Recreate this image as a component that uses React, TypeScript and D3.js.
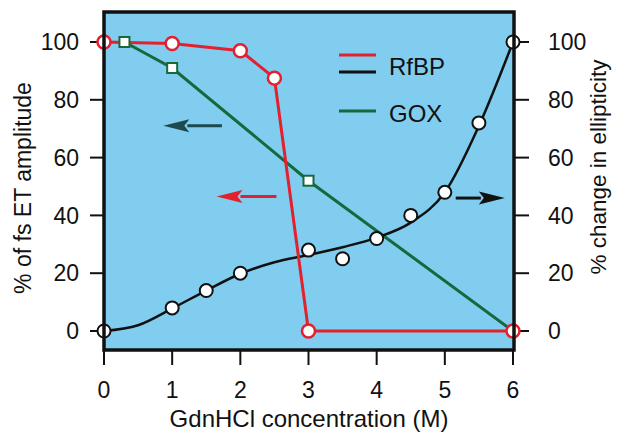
import React from "react";
import * as d3 from "d3";

const xTicks = [0, 1, 2, 3, 4, 5, 6];
const yTicks = [0, 20, 40, 60, 80, 100];

// RfBP fs ET amplitude (left axis, red)
const rfbpX = [0, 1, 2, 2.5, 3, 6];
const rfbpY = [100, 99.5, 97, 87.5, 0, 0];

// GOX fs ET amplitude (left axis, green)
const goxX = [0.3, 1, 3, 6];
const goxY = [100, 91, 52, 0];
const goxMarkerX = [0.3, 1, 3];
const goxMarkerY = [100, 91, 52];

// RfBP ellipticity change (right axis, black)
const ellX = [0, 1, 1.5, 2, 3, 3.5, 4, 4.5, 5, 5.5, 6];
const ellY = [0, 8, 14, 20, 28, 25, 32, 40, 48, 72, 100];

// fitted curve through ellipticity data
const fitX = [0, 0.5, 1, 1.5, 2, 2.5, 3, 3.5, 4, 4.5, 5, 5.5, 6];
const fitY = [0, 2, 7.8, 14, 19.8, 23.8, 26.3, 29, 32.3, 37.5, 48, 71, 100];

// arrows (x from, x to, y) in data units
const arrowGreen = [1.73, 0.87, 71];
const arrowRed = [2.53, 1.65, 46.5];
const arrowBlack = [5.16, 5.88, 46];

const W = 617;
const H = 438;
const frameL = 104;
const frameR = 514;
const frameT = 12;
const frameB = 350;

const BG = "#80cdf0";
const RED = "#e3202e";
const GREEN = "#17683c";
const DARKGREEN = "#1c4a4f";
const BLACK = "#111";
const FONT = "Liberation Sans, Arial, Helvetica, sans-serif";

export default function App() {
  const x = d3.scaleLinear().domain([0, 6]).range([104, 513]);
  const yL = d3.scaleLinear().domain([0, 100]).range([331, 42]);
  const yR = d3.scaleLinear().domain([0, 100]).range([331, 42]);

  const straight = d3
    .line<[number, number]>()
    .x((d) => x(d[0]))
    .y((d) => yL(d[1]));
  const smooth = d3
    .line<[number, number]>()
    .x((d) => x(d[0]))
    .y((d) => yR(d[1]))
    .curve(d3.curveMonotoneX);

  const rfbp = rfbpX.map((v, i) => [v, rfbpY[i]] as [number, number]);
  const gox = goxX.map((v, i) => [v, goxY[i]] as [number, number]);
  const fit = fitX.map((v, i) => [v, fitY[i]] as [number, number]);

  const arrow = (a: number[], color: string, key: string) => {
    const x1 = x(a[0]);
    const x2 = x(a[1]);
    const y = yL(a[2]);
    const dir = Math.sign(x2 - x1);
    const headLen = 26;
    const hw = 6.5;
    const base = x2 - dir * headLen;
    return (
      <g key={key}>
        <line x1={x1} x2={base + dir * 2} y1={y} y2={y} stroke={color} strokeWidth={3} />
        <path
          d={`M${x2},${y} L${base},${y - hw} L${base + dir * 5},${y} L${base},${y + hw} Z`}
          fill={color}
        />
      </g>
    );
  };

  return (
    <svg
      width={W}
      height={H}
      style={{ position: "absolute", left: 0, top: 0, background: "#fff" }}
      fontFamily={FONT}
    >
      <rect x={frameL} y={frameT} width={frameR - frameL} height={frameB - frameT} fill={BG} />

      {/* left ticks */}
      {yTicks.map((t) => (
        <g key={"l" + t}>
          <line x1={90} x2={frameL} y1={yL(t)} y2={yL(t)} stroke={BLACK} strokeWidth={2} />
          <text x={79} y={yL(t)} dy="0.36em" textAnchor="end" fontSize={23} fill="#111">
            {t}
          </text>
        </g>
      ))}
      {/* right ticks */}
      {yTicks.map((t) => (
        <g key={"r" + t}>
          <line x1={frameR} x2={529} y1={yR(t)} y2={yR(t)} stroke={BLACK} strokeWidth={2} />
          <text x={548} y={yR(t)} dy="0.36em" textAnchor="start" fontSize={23} fill="#111">
            {t}
          </text>
        </g>
      ))}
      {/* bottom ticks */}
      {xTicks.map((t) => (
        <g key={"b" + t}>
          <line x1={x(t)} x2={x(t)} y1={frameB} y2={365} stroke={BLACK} strokeWidth={2} />
          <text x={x(t)} y={398} textAnchor="middle" fontSize={23} fill="#111">
            {t}
          </text>
        </g>
      ))}

      {/* arrows */}
      {arrow(arrowGreen, DARKGREEN, "ag")}
      {arrow(arrowRed, RED, "ar")}
      {arrow(arrowBlack, BLACK, "ab")}

      {/* legend */}
      <line x1={339} x2={376} y1={55} y2={55} stroke={RED} strokeWidth={3} />
      <line x1={339} x2={376} y1={72} y2={72} stroke={BLACK} strokeWidth={3} />
      <text x={389} y={75} fontSize={24} fill="#111">RfBP</text>
      <line x1={339} x2={376} y1={111} y2={111} stroke={GREEN} strokeWidth={3} />
      <text x={389} y={122} fontSize={24} fill="#111">GOX</text>

      {/* GOX line */}
      <path d={straight(gox) || ""} fill="none" stroke={GREEN} strokeWidth={3} />
      {/* fit curve */}
      <path d={smooth(fit) || ""} fill="none" stroke={BLACK} strokeWidth={2.5} />
      {/* RfBP line */}
      <path d={straight(rfbp) || ""} fill="none" stroke={RED} strokeWidth={3} />

      {/* GOX markers */}
      {goxMarkerX.map((v, i) => (
        <rect
          key={"gm" + i}
          x={x(v) - 5}
          y={yL(goxMarkerY[i]) - 5}
          width={10}
          height={10}
          fill="#fff"
          stroke={GREEN}
          strokeWidth={2}
        />
      ))}
      {/* ellipticity markers */}
      {ellX.map((v, i) => (
        <circle
          key={"em" + i}
          cx={x(v)}
          cy={yR(ellY[i])}
          r={6.5}
          fill="#fff"
          stroke={BLACK}
          strokeWidth={2}
        />
      ))}
      {/* RfBP markers */}
      {rfbpX.map((v, i) => (
        <circle
          key={"rm" + i}
          cx={x(v)}
          cy={yL(rfbpY[i])}
          r={6.5}
          fill="#fff"
          stroke={RED}
          strokeWidth={2.5}
        />
      ))}

      {/* frame */}
      <rect
        x={frameL}
        y={frameT}
        width={frameR - frameL}
        height={frameB - frameT}
        fill="none"
        stroke={BLACK}
        strokeWidth={3.5}
      />

      {/* axis titles */}
      <text x={309} y={427} textAnchor="middle" fontSize={24} fill="#111">
        GdnHCl concentration (M)
      </text>
      <text
        transform={`translate(31,188) rotate(-90)`}
        textAnchor="middle"
        fontSize={23}
        fill="#111"
      >
        % of fs ET amplitude
      </text>
      <text
        transform={`translate(606,167) rotate(-90)`}
        textAnchor="middle"
        fontSize={22.5}
        fill="#111"
      >
        % change in ellipticity
      </text>
    </svg>
  );
}
